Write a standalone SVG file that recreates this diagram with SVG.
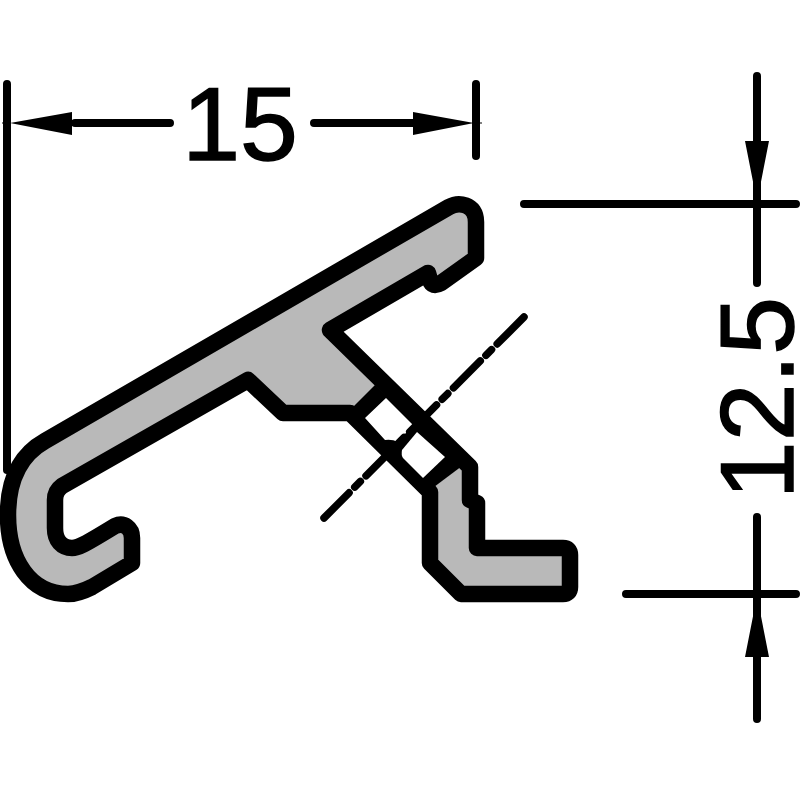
<svg xmlns="http://www.w3.org/2000/svg" width="800" height="800" viewBox="0 0 800 800">
<style>
.l{fill:none;stroke:#000;stroke-width:8;stroke-linecap:round;stroke-linejoin:round}
.h{fill:none;stroke:#000;stroke-width:1}
.p{fill:#b9b9b9;stroke:#000;stroke-width:16.5;stroke-linejoin:round;stroke-linecap:round}
.a{fill:#000}
.k{fill:#000}
.c{fill:#fff}
.t{font-family:"Liberation Sans",Arial,sans-serif;font-size:104px;fill:#000;stroke:#000;stroke-width:1.5}
</style>
<rect width="800" height="800" fill="#fff"/>
<g id="profile">
<path class="p" d="M449 207C458 202 476 203 476 222L476 258L441 283Q432 288 430 280L428 273L330 330L470 467L470 500L477 503L477 548L563 548Q570 548 570 555L570 587Q570 594 563 594L461 594L430 563L430 492L350 413L283 413L248 380L62 486Q55 491 55 500L55 528C55 541 62 548 72 548C78 548 84 545 115 526C124 522 132 528 132 538L132 563L92 587C80 593 74 594 68 594C30 594 8 560 8 515C8 480 20 455 45 441Z"/>
<path class="k" d="M375 385L352 408L430 490L462 466Z"/>
<path class="c" d="M386 398L413 425L398 442Q392 439 385 440L365 418Z"/>
<path class="c" d="M417 432L445 457L423 478L403 458Q401 455 402 450Z"/>
</g>
<g id="connectors">
<path class="l" style="stroke-width:7.5;stroke-dasharray:38 8 8 8" d="M524 317L324 518"/>
<path class="l" d="M7 84V470M476 84V156M524 204H796M626 594H796M757 76V283M757 517V719M75 123H170M314 123H413"/>
<path class="h" d="M2 123H10M474 123H482"/>
<path class="a" d="M10 123L72 112V135ZM474 123L413 112V135ZM757 202L745 141H769ZM757 596L745 657H769Z"/>
</g>
<g id="labels">
<text class="t" x="240" y="160" text-anchor="middle">15</text>
<text class="t" text-anchor="middle" transform="translate(793 398) rotate(-90)">12.5</text>
</g>
</svg>
